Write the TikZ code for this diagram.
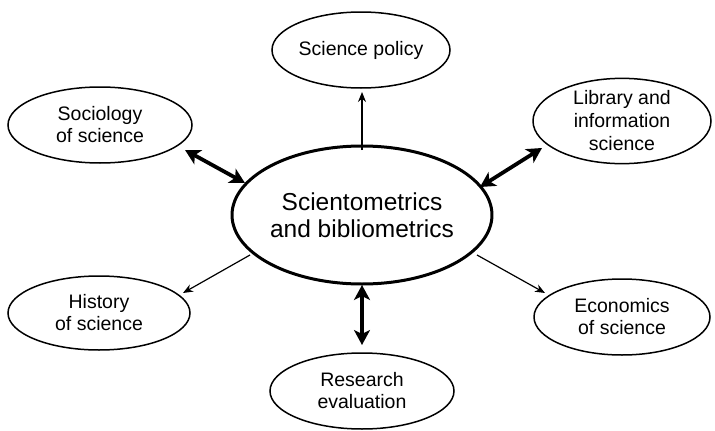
\documentclass[tikz,border=0pt]{standalone}
\usepackage{fontspec}
\setmainfont{Liberation Sans}
\usetikzlibrary{shapes.geometric,arrows.meta}
\begin{document}
\begin{tikzpicture}[x=1pt,y=-1pt,
  field/.style={ellipse,draw,line width=1.5pt,inner sep=0pt,align=center,
    font=\fontsize{19.5}{22}\selectfont},
  core/.style={ellipse,draw,line width=3pt,inner sep=0pt,align=center,
    font=\fontsize{24.5}{27}\selectfont},
  both/.style={line width=3.8pt,{Stealth[length=15pt,width=16pt,inset=4pt]}-{Stealth[length=15pt,width=16pt,inset=4pt]}},
  feed/.style={line width=1.2pt,-{Stealth[length=10pt,width=8pt]}}]
\useasboundingbox (0,0) rectangle (715,431);

% central field
\node[core,minimum width=258pt,minimum height=138pt] (sb) at (362,215)
  {Scientometrics\\and bibliometrics};

% surrounding fields
\node[field,minimum width=178pt,minimum height=76pt] (pol) at (361,50) {Science policy};
\node[field,minimum width=184pt,minimum height=76pt] (soc) at (100,125) {Sociology\\of science};
\node[field,minimum width=178pt,minimum height=78pt] (lis) at (622,121)
  {Library and\\[1pt]information\\[1pt]science};
\node[field,minimum width=182pt,minimum height=74pt] (his) at (99,313) {History\\of science};
\node[field,minimum width=176pt,minimum height=76pt] (eco) at (622,317) {Economics\\of science};
\node[field,minimum width=184pt,minimum height=76pt] (res) at (362,391) {Research\\evaluation};

% arrow end points
\coordinate (polA) at (362,150);  \coordinate (polB) at (362,92);
\coordinate (socA) at (245,183);  \coordinate (socB) at (185,150);
\coordinate (lisA) at (480,187);  \coordinate (lisB) at (542,148);
\coordinate (resA) at (362,285);  \coordinate (resB) at (362,345);
\coordinate (hisA) at (250,255);  \coordinate (hisB) at (183,293);
\coordinate (ecoA) at (477,255);  \coordinate (ecoB) at (545,293);

% two-way links
\draw[both] (socA) -- (socB);
\draw[both] (lisA) -- (lisB);
\draw[both] (resA) -- (resB);

% one-way links
\draw[feed] (polA) -- (polB);
\draw[feed] (hisA) -- (hisB);
\draw[feed] (ecoA) -- (ecoB);
\end{tikzpicture}
\end{document}
